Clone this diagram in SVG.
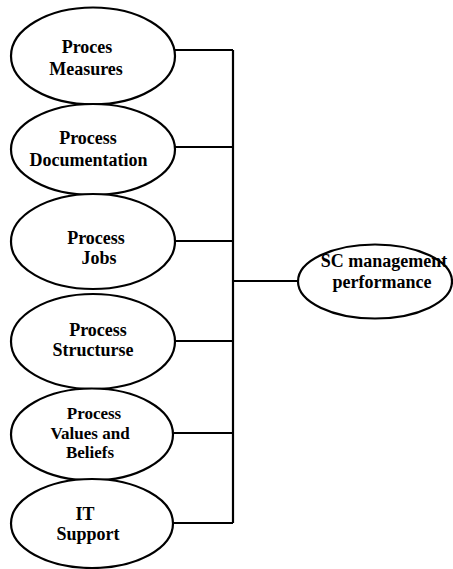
<svg xmlns="http://www.w3.org/2000/svg" width="453" height="569" viewBox="0 0 453 569">
  <style>
    .node ellipse { fill: #ffffff; stroke: #000000; stroke-width: 2.2; }
    .node text { font-family: "Liberation Serif", "Times New Roman", serif; font-size: 18px; font-weight: bold; fill: #000000; text-anchor: middle; }
    .node text.small { font-size: 17px; }
    .links path { fill: none; stroke: #000000; stroke-width: 2.2; }
  </style>
  <rect width="453" height="569" fill="#ffffff"/>

  <!-- connectors: every factor joins a common bus that feeds the outcome -->
  <g id="connectors" class="links">
    <path d="M175 50 H233"/>
    <path d="M175 147 H233"/>
    <path d="M175 241 H233"/>
    <path d="M175 341 H233"/>
    <path d="M174 433 H233"/>
    <path d="M174 523 H233"/>
    <path d="M233 50 V523"/>
    <path d="M233 281 H298"/>
  </g>

  <g id="proces-measures" class="node">
    <ellipse cx="93" cy="56" rx="82" ry="48.5"/>
    <text x="87" y="53">Proces</text>
    <text x="86" y="75">Measures</text>
  </g>

  <g id="process-documentation" class="node">
    <ellipse cx="93" cy="149.5" rx="82" ry="45.5"/>
    <text x="88" y="144">Process</text>
    <text x="88.5" y="166">Documentation</text>
  </g>

  <g id="process-jobs" class="node">
    <ellipse cx="93" cy="241.5" rx="82" ry="47.5"/>
    <text x="96" y="244">Process</text>
    <text x="99" y="264">Jobs</text>
  </g>

  <g id="process-structurse" class="node">
    <ellipse cx="93" cy="341.5" rx="82" ry="47.5"/>
    <text x="98" y="336">Process</text>
    <text x="93" y="356">Structurse</text>
  </g>

  <g id="process-values-beliefs" class="node">
    <ellipse cx="92" cy="434.5" rx="81" ry="46"/>
    <text class="small" x="94" y="419">Process</text>
    <text class="small" x="90" y="438.5">Values and</text>
    <text class="small" x="90" y="458">Beliefs</text>
  </g>

  <g id="it-support" class="node">
    <ellipse cx="92" cy="523.5" rx="81" ry="44.5"/>
    <text x="85" y="520">IT</text>
    <text x="88" y="540">Support</text>
  </g>

  <g id="sc-management-performance" class="node">
    <ellipse cx="375" cy="281.5" rx="77" ry="37"/>
    <text x="384" y="267">SC management</text>
    <text x="382" y="288">performance</text>
  </g>
</svg>
